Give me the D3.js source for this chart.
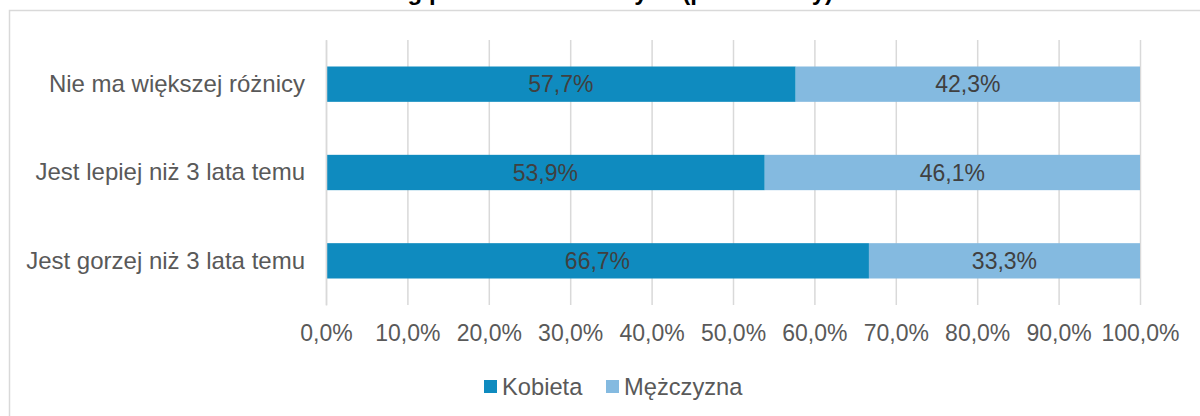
<!DOCTYPE html>
<html><head><meta charset="utf-8">
<script src="https://cdn.jsdelivr.net/npm/d3@7"></script>
<style>body{margin:0;background:#fff}svg{display:block;font-family:"Liberation Sans",Arial,sans-serif}</style>
</head><body>
<svg id="c" width="1200" height="416"></svg>
<script>
const title = "Ocena zmian wg płci i wieku badanych (procentowy)";
const categories = ["Nie ma większej różnicy", "Jest lepiej niż 3 lata temu", "Jest gorzej niż 3 lata temu"];
const seriesNames = ["Kobieta", "Mężczyzna"];
const kobieta = [57.7, 53.9, 66.7];
const mezczyzna = [42.3, 46.1, 33.3];
const tickValues = [0, 10, 20, 30, 40, 50, 60, 70, 80, 90, 100];
const colors = ["#0F8BBF", "#84BAE0"];

const svg = d3.select("#c");
svg.append("rect").attr("x", 9.5).attr("y", 10.5).attr("width", 1300).attr("height", 500)
  .attr("fill", "#fff").attr("stroke", "#d9d9d9").attr("stroke-width", 1.5);

svg.append("text").attr("x", 833).attr("y", 0).attr("text-anchor", "end")
  .attr("font-size", 24).attr("font-weight", "bold").attr("fill", "#000").text(title);

const x = d3.scaleLinear().domain([0, 100]).range([326, 1140]);
const y = d3.scaleBand().domain(categories).range([40, 305]).paddingInner(0.6).paddingOuter(0.3);
const fmt = v => d3.format(".1f")(v).replace(".", ",") + "%";

// grid
svg.append("g").selectAll("line").data(tickValues).join("line")
  .attr("x1", d => x(d) + 0.5).attr("x2", d => x(d) + 0.5)
  .attr("y1", 40).attr("y2", 305).attr("stroke", "#d9d9d9").attr("stroke-width", 1.5);

// x axis labels
const xa = svg.append("g").attr("transform", "translate(0,305)")
  .call(d3.axisBottom(x).tickValues(tickValues).tickFormat(fmt).tickSize(0).tickPadding(20));
xa.select(".domain").remove();
xa.selectAll("text").attr("font-size", 23).attr("fill", "#595959").attr("font-family", "Liberation Sans, Arial, sans-serif");

// bars
const stack = categories.map((c, i) => ({c, vals: [kobieta[i], mezczyzna[i]]}));
stack.forEach(s => {
  let acc = 0;
  s.vals.forEach((v, j) => {
    svg.append("rect").attr("x", x(acc)).attr("width", x(acc + v) - x(acc))
      .attr("y", y(s.c)).attr("height", y.bandwidth()).attr("fill", colors[j]);
    svg.append("text").attr("x", (x(acc) + x(acc + v)) / 2).attr("y", y(s.c) + y.bandwidth() / 2)
      .attr("dy", "0.35em").attr("text-anchor", "middle").attr("font-size", 23).attr("fill", "#404040").text(fmt(v));
    acc += v;
  });
});

// y axis
const ya = svg.append("g").attr("transform", "translate(326,0)")
  .call(d3.axisLeft(y).tickSize(0).tickPadding(21));
ya.select(".domain").attr("stroke", "#d9d9d9").attr("stroke-width", 1.5);
ya.selectAll("text").attr("font-size", 24).attr("fill", "#595959").attr("font-family", "Liberation Sans, Arial, sans-serif");

// legend
const lg = svg.append("g");
const lx = [484, 606];
seriesNames.forEach((n, i) => {
  lg.append("rect").attr("x", lx[i]).attr("y", 380).attr("width", 13).attr("height", 13).attr("fill", colors[i]);
  lg.append("text").attr("x", lx[i] + 18).attr("y", 386.5).attr("dy", "0.35em").attr("font-size", 23.7).attr("fill", "#595959").text(n);
});
</script>
</body></html>
